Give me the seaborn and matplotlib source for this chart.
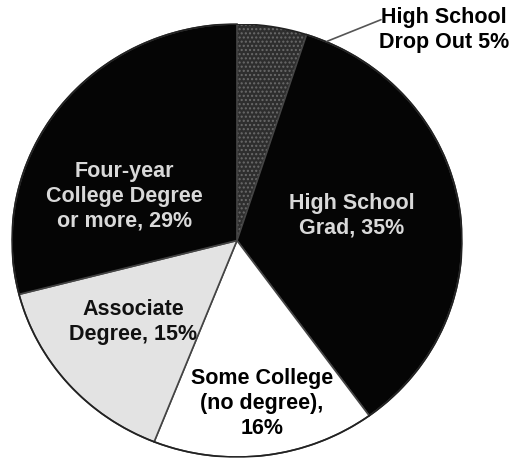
import numpy as np
import matplotlib
matplotlib.use("Agg")
import matplotlib.pyplot as plt
import seaborn as sns

# Education levels, clockwise from 12 o'clock
labels = ["High School\nDrop Out 5%", "High School\nGrad, 35%",
          "Some College\n(no degree),\n16%", "Associate\nDegree, 15%",
          "Four-year\nCollege Degree\nor more, 29%"]
shares = [5, 35, 16, 15, 29]
colors = ["#2e2e2e", "#050505", "#ffffff", "#e3e3e3", "#050505"]
text_colors = ["#000000", "#d9d9d9", "#000000", "#111111", "#d9d9d9"]
# label anchor positions inside the unit pie (first label is outside)
label_xy = [(0.92, 0.975), (0.51, 0.12), (0.11, -0.75), (-0.46, -0.37), (-0.50, 0.21)]

sns.set_theme(style="white")
plt.rcParams["font.family"] = ["Liberation Sans", "DejaVu Sans"]

fig = plt.figure(figsize=(5.14, 4.60), dpi=100)
ax = fig.add_axes([0.0233, 0.0043, 0.8755, 0.9413])

wedges, _ = ax.pie(shares, colors=colors, startangle=90, counterclock=False,
                   radius=1, wedgeprops=dict(edgecolor="#444444", linewidth=1.2))
# speckled look of the small slice
wedges[0].set_hatch("....")
wedges[0].set_edgecolor("#6a6a6a")
wedges[0].set_linewidth(0)

ax.set_aspect("auto")
ax.set_xlim(-1, 1)
ax.set_ylim(-1, 1)
ax.axis("off")

# outer rim
theta = np.linspace(0, 2 * np.pi, 400)
ax.plot(np.cos(theta), np.sin(theta), color="#222222", lw=1.2)

for lab, (x, y), c in zip(labels, label_xy, text_colors):
    ax.text(x, y, lab, ha="center", va="center", color=c, fontsize=15.5,
            fontweight="bold", linespacing=1.25, clip_on=False)

# leader line for the small slice
ax.plot([0.40, 0.64], [0.92, 1.02], color="#555555", lw=1.2, clip_on=False)

fig.savefig("out.png", dpi=100)
